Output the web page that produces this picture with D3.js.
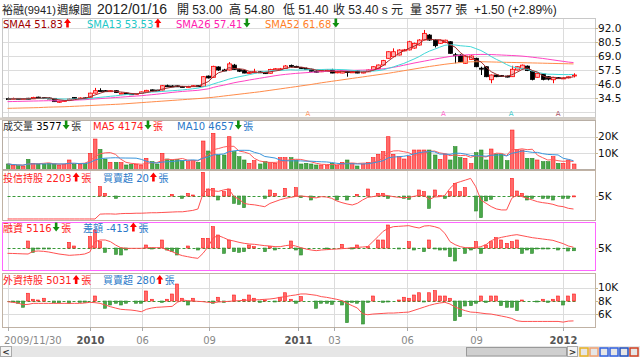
<!DOCTYPE html>
<html><head><meta charset="utf-8">
<script src="https://cdn.jsdelivr.net/npm/d3@7"></script>
<style>
body{margin:0;background:#fff}
svg{display:block}
text{font-family:"DejaVu Sans","Noto Sans CJK TC",sans-serif;white-space:pre}
</style></head>
<body><svg id="c" width="640" height="357"></svg>
<script>
// ---------------- DATA ----------------
const openP=[34.0,33.6,34.2,33.8,34.3,33.8,35.2,34.8,34.5,34.2,
31.2,31.8,32.6,35.0,34.5,34.6,35.0,38.5,40.6,40.5,
39.8,40.5,38.0,38.5,38.0,37.5,38.2,39.5,41.2,41.0,
41.0,44.6,44.4,44.5,44.0,43.6,44.0,44.6,44.0,52.5,
51.5,60.0,57.5,57.5,61.5,57.8,57.0,55.0,55.2,56.0,
55.6,54.8,58.0,58.3,58.8,61.3,60.5,59.5,58.8,58.2,
56.5,56.0,57.0,57.5,55.2,55.0,56.2,56.0,57.0,55.0,
56.0,57.5,58.8,61.6,67.1,68.4,69.8,73.5,74.0,75.5,
78.0,82.1,86.2,82.1,79.4,80.0,80.7,70.0,69.8,63.0,
66.2,67.1,59.0,60.2,49.5,53.4,53.0,52.5,52.0,57.5,
58.5,60.7,56.2,51.5,54.2,52.0,49.5,51.2,50.8,51.0,
53.0];
const highP=[34.8,34.8,34.5,34.4,34.6,35.5,35.6,35.2,34.9,34.4,
32.2,32.8,34.0,35.2,35.0,35.0,38.8,42.8,42.5,41.0,
41.0,40.8,39.0,38.8,38.3,38.5,39.8,41.2,41.5,41.2,
45.0,45.5,45.0,44.8,44.4,44.5,45.0,45.0,52.5,53.0,
61.0,60.5,58.5,64.0,62.5,58.5,57.5,56.0,58.5,56.5,
56.0,58.5,59.0,59.2,61.5,62.0,61.0,60.0,59.5,58.5,
57.2,57.8,58.0,58.5,56.5,57.5,56.5,56.8,57.5,56.5,
58.0,60.5,62.0,65.8,72.8,75.3,74.5,74.8,81.5,80.0,
82.8,90.4,87.0,82.8,82.5,82.4,81.2,71.5,70.5,69.8,
69.6,67.6,60.2,60.6,53.8,53.8,53.4,52.9,61.0,60.6,
62.0,61.2,56.6,55.2,54.6,52.4,51.9,51.6,51.5,52.2,
54.8];
const lowP=[33.2,33.4,33.5,33.5,33.4,33.6,34.5,34.2,34.0,31.2,
30.5,31.5,32.4,34.2,34.0,34.0,34.8,38.2,40.0,39.5,
39.5,38.8,37.8,37.6,37.2,37.3,38.0,39.3,40.6,40.2,
40.8,44.0,43.8,43.6,43.4,43.3,43.8,43.8,43.8,50.5,
51.2,56.8,56.5,57.2,57.5,55.8,54.8,54.5,54.8,55.0,
54.2,54.6,57.5,57.8,58.5,60.0,59.2,58.5,58.0,56.2,
55.5,55.8,56.8,54.8,54.8,54.8,52.0,55.5,54.8,54.8,
55.8,57.2,58.5,61.2,66.8,68.0,69.5,72.8,73.6,75.0,
77.6,81.8,81.5,76.0,79.0,79.6,70.8,63.0,63.8,62.6,
65.8,59.8,53.4,51.6,46.6,51.6,51.8,51.4,51.8,57.2,
58.2,56.6,49.0,51.2,49.0,49.0,46.6,50.5,50.4,50.6,
51.4];
const closeP=[33.6,34.2,33.8,34.0,33.6,35.0,34.8,34.5,34.3,31.5,
31.8,32.5,33.6,34.5,34.5,34.3,38.5,40.5,40.5,39.8,
40.5,39.0,38.5,38.0,37.5,38.2,39.5,40.8,41.0,40.5,
44.6,44.4,44.2,44.0,43.8,44.0,44.6,44.0,52.0,51.0,
60.5,57.5,57.0,62.5,58.0,56.5,55.0,55.5,56.0,55.6,
54.5,58.0,58.5,58.5,60.8,60.5,59.5,58.8,58.3,56.5,
56.0,57.0,57.5,55.0,56.0,57.0,56.0,56.0,55.0,56.0,
57.5,60.2,61.6,65.2,72.5,72.5,73.9,74.0,80.7,79.4,
82.1,87.6,82.1,77.5,82.1,82.0,71.2,69.8,64.3,69.0,
69.0,60.2,58.8,52.0,53.4,52.0,52.2,51.8,58.1,60.2,
61.5,57.0,49.8,54.8,49.8,50.0,51.5,51.0,51.0,51.9,
53.4];
const volume=[3600,3000,2600,2400,6400,4000,3600,3600,4000,3600,
3000,3400,6000,3400,3600,4000,10000,18600,12400,6600,
4600,4600,4400,3000,3400,3400,3000,7000,5000,3600,
10000,6600,6000,6400,5600,5000,5600,4600,17400,11400,
22000,9000,9000,20000,11000,8000,6000,4000,5600,3600,
5000,4600,4000,7400,7400,7400,6000,3600,4000,3600,
3000,3000,3000,4000,2600,4600,6000,4000,2400,3600,
4600,7400,9400,11000,20000,9400,8000,6600,8000,12000,
12000,12000,12000,9000,6400,9600,6000,14000,7400,7000,
3800,10400,12000,6000,12600,9600,9600,5600,24000,12400,
12000,7000,7000,6000,5000,5000,8000,4000,4000,6000,
3577];
const sma26=[31.5,31.6,31.7,31.8,31.9,32.0,32.1,32.2,32.3,32.2,
32.2,32.3,32.5,32.7,32.9,33.1,33.4,33.7,34.0,34.3,
34.6,34.9,35.2,35.5,35.8,36.1,36.4,36.8,37.2,37.6,
38.1,38.6,39.1,39.5,39.9,40.2,40.5,40.8,41.4,42.0,
43.2,44.2,45.0,46.0,47.0,47.8,48.5,49.3,50.0,50.7,
51.4,52.1,52.8,53.4,53.9,54.3,54.7,55.0,55.3,55.6,
55.9,56.2,56.4,56.6,56.8,57.0,57.1,57.2,57.3,57.4,
57.5,57.7,58.0,58.5,59.0,59.7,60.5,61.4,62.3,63.2,
64.0,64.8,65.6,66.4,67.2,67.9,68.6,69.2,69.6,69.9,
70.1,70.2,70.3,70.3,70.2,70.0,69.8,69.6,69.4,69.2,
68.9,68.5,68.0,67.5,67.0,66.4,65.8,65.2,64.6,64.0,
63.6];
const sma52=[26.0,26.1,26.2,26.3,26.4,26.5,26.6,26.8,27.0,27.1,
27.2,27.3,27.5,27.7,27.9,28.1,28.3,28.5,28.7,28.9,
29.1,29.3,29.5,29.8,30.1,30.4,30.7,31.0,31.3,31.6,
31.9,32.2,32.5,32.8,33.1,33.4,33.7,34.0,34.3,34.7,
35.1,35.6,36.1,36.6,37.1,37.6,38.1,38.6,39.1,39.6,
40.2,40.8,41.4,42.0,42.6,43.2,43.8,44.4,45.0,45.6,
46.3,47.0,47.6,48.2,48.8,49.4,50.0,50.6,51.2,51.8,
52.4,53.0,53.6,54.2,54.8,55.5,56.2,56.9,57.6,58.3,
59.0,59.7,60.4,61.0,61.6,62.2,62.7,63.2,63.6,64.0,
64.2,64.3,64.3,64.2,64.1,64.0,63.9,63.8,63.7,63.6,
63.5,63.4,63.3,63.2,63.1,63.0,62.9,62.8,62.7,62.6,
62.5];
const trustHold=[60,60,60,60,60,60,60,60,60,60,
60,60,60,60,60,60,60,60,1100,1150,
1150,1100,1200,1250,1250,1300,1300,1350,1400,1400,
1450,1500,1550,1600,1600,1750,1900,2200,5500,6500,
6100,6000,6300,6500,4900,4300,3400,3200,3100,2900,
2700,3400,3800,4200,4500,4700,4900,5000,4900,4700,
4600,4860,4780,4500,3930,3570,3280,3070,3430,4140,
4710,4860,5070,5215,5070,4860,4710,4640,4710,4930,
5140,5070,4280,4780,4860,5140,6650,7720,8075,8430,
8790,7000,4140,3430,2720,2220,2000,2000,4500,5215,
4860,4500,4140,3780,3570,3430,3210,2850,2710,2350,
2203];
const trustNet=[0,0,0,0,0,0,0,0,0,0,
0,0,0,0,0,0,0,0,1680,480,
0,-420,0,0,0,0,0,0,0,0,
0,0,300,0,-420,480,180,0,4260,1260,
1380,-720,780,1260,-1320,-1500,-2100,0,0,0,
-420,1080,480,0,1380,0,1500,-300,0,-720,
0,0,0,0,-720,0,-720,0,300,0,
1260,0,480,480,-420,0,0,-420,-600,0,
1080,780,-2220,1080,60,-420,780,2280,780,1500,
0,-2700,-3900,-900,-600,0,0,0,3180,900,
480,-720,-420,0,-420,-420,-720,0,-420,-420,
20];
const marginBal=[4200,4180,4150,4120,4100,4500,4550,4500,4400,4250,
4100,4000,3900,3950,4000,4100,4400,5950,6200,6200,
5950,5450,5050,4950,4950,4950,4950,5050,5050,5050,
5050,4700,4450,4100,3850,3700,3550,3450,4200,5200,
6550,6850,6550,6200,6050,5850,5700,5600,5550,5450,
5350,5300,5200,5200,5350,5450,5300,5050,4850,4700,
4600,4700,4750,4800,4850,4900,4950,5050,5100,5150,
5200,5950,6700,7500,7950,8200,8250,8300,8350,8150,
8000,8300,8350,8200,7950,7200,5950,5500,5200,5050,
5050,5050,5200,5500,6100,6400,6600,6750,6900,7000,
6850,6700,6550,6450,6350,6250,6150,5900,5650,5300,
5116];
const marginChg=[0,0,0,0,1050,-650,-150,-150,-150,0,
0,0,850,300,0,0,1700,2700,950,-650,
0,-950,-1050,-300,0,0,0,450,-150,0,
1200,-300,-550,-1050,0,300,0,-300,1450,1450,
3200,1950,-800,1200,-550,-650,-550,450,200,0,
-550,200,-300,0,0,1050,-300,-1050,0,0,
0,0,-150,0,0,550,0,-150,450,0,
200,0,1200,1200,3450,0,-150,0,950,-300,
0,-550,1200,-150,-300,-300,-1300,-1950,0,-800,
-300,950,-800,450,950,1550,1200,700,950,1200,
-800,-300,-800,-100,-100,-100,0,-300,0,-450,
-413];
const foreignHold=[7900,7800,7700,7450,7500,7650,7650,7650,7650,7650,
7650,7650,7650,7650,7650,7700,7800,7750,7650,7400,
7150,6950,6760,6700,6650,6550,6400,6760,6950,7060,
7100,7150,7200,7800,8150,8050,8000,7950,7900,7800,
7750,7850,7900,7950,8000,8050,8100,8150,8150,8200,
8250,8300,8400,8550,8650,8800,8900,9050,9050,8950,
8850,8650,8550,8400,8250,8050,7650,7300,6950,6100,
5950,6050,6100,6150,6200,6200,6250,6300,6350,6600,
6850,7100,7350,7550,7700,7800,7550,7100,6800,6550,
6350,6300,6200,6100,6050,5900,5750,5600,5400,5050,
4950,4950,4950,4950,4950,4950,4950,4950,4850,5000,
5031];
const foreignNet=[0,-30,-90,-250,310,70,40,110,0,-70,
-70,0,-90,0,-55,-55,0,200,0,-290,
-160,-90,-160,-90,0,-90,-90,400,70,0,
-55,70,280,680,110,-160,110,0,0,0,
-90,150,-55,0,240,0,70,240,110,-55,
40,0,-30,150,330,70,-90,175,0,0,
-290,-90,-90,-135,0,-160,-865,-55,-90,-920,
-55,200,0,-55,-30,0,40,150,110,240,
330,-30,330,415,200,200,110,-785,-625,-200,
-185,-90,200,-55,200,200,-185,-250,-250,-385,
40,0,0,-30,70,-55,70,200,-160,200,
280];
const tickIdx=[0,16,26.1,39.2,56.5,63.5,77.6,91,108];
const tickLabels=['2009/11/30','2010','06','09','2011','03','06','09','2012'];
const tickYear=[false,true,false,false,true,false,false,false,true];
const priceTicks=[92.0,80.5,69.0,57.5,46.0,34.5];
const priceGrid=[92.0,80.5,69.0,57.5,46.0,34.5,23.0];
const volTicks=[20000,10000];
const foreignTicks=[10000,8000,6000];
const markerIdx=[58.4,84.7,97.9,107];
const markerColors=['#ff9966','#ff66cc','#44cccc','#aa5566'];
const titleParts=['裕融(9941)','週線圖','2012/01/16','開 53.00','高 54.80','低 51.40','收 53.40 s 元','量 3577 張','+1.50 (+2.89%)'];
const legendVals={sma4:'51.83',sma13:'53.53',sma26:'57.41',sma52:'61.68',vol:'3577',ma5:'4174',ma10:'4657',
 trust:'2203',trustNet:'20',margin:'5116',marginChg:'-413',foreign:'5031',foreignNet:'280'};

// ---------------- DRAW ----------------
const svg=d3.select('#c');
const N=closeP.length;
const PL=2,PR=595;
const x=d3.scaleLinear().domain([0,N-1]).range([7.5,573.5]);
const grid='#dcdcdc';
const upC='#ff0000', dnC='#000000';
const redBar='#ff6a6a', redStroke='#ff1a1a', grnBar='#4aa84a', grnStroke='#2a882a';

function sma(arr,n){return arr.map((v,i)=>d3.mean(arr.slice(Math.max(0,i-n+1),i+1)));}

function panel(top,bottom,stroke,id,hgrid){
  svg.append('rect').attr('x',PL+0.5).attr('y',top+0.5).attr('width',PR-PL).attr('height',bottom-top)
    .attr('fill','#fff').attr('stroke',stroke);
  svg.append('clipPath').attr('id',id).append('rect').attr('x',PL+1).attr('y',top+1)
    .attr('width',PR-PL-1).attr('height',bottom-top-1);
  const g=svg.append('g').attr('clip-path',`url(#${id})`);
  tickIdx.forEach(t=>{const xx=Math.round(x(t))+0.5;
    g.append('line').attr('x1',xx).attr('x2',xx).attr('y1',top).attr('y2',bottom).attr('stroke',grid);});
  (hgrid||[]).forEach(yy=>{const y0=Math.round(yy)+0.5;
    g.append('line').attr('x1',PL).attr('x2',PR).attr('y1',y0).attr('y2',y0).attr('stroke',grid);});
  return g;
}
function arrow(x0,base,up){
  const c=up?'#ff0000':'#109010';
  const p=up?`M${x0},${base-9}L${x0+3.5},${base-4.5}L${x0+1.3},${base-4.5}L${x0+1.3},${base}L${x0-1.3},${base}L${x0-1.3},${base-4.5}L${x0-3.5},${base-4.5}Z`
           :`M${x0},${base}L${x0+3.5},${base-4.5}L${x0+1.3},${base-4.5}L${x0+1.3},${base-9}L${x0-1.3},${base-9}L${x0-1.3},${base-4.5}L${x0-3.5},${base-4.5}Z`;
  svg.append('path').attr('d',p).attr('fill',c);
}
function legend(x0,base,parts){
  let cx=x0;
  parts.forEach(p=>{
    if(p.a){arrow(cx+4.5,base,p.a==='up');cx+=9.5;}
    else{
      const t=svg.append('text').attr('x',cx).attr('y',base).attr('font-size',10).attr('xml:space','preserve');
      p.segs.forEach(s=>t.append('tspan').attr('fill',s[1]).text(s[0]));
      cx+=t.node().getComputedTextLength();
    }
  });
}
function rightLabel(txt,yy){
  svg.append('line').attr('x1',PR).attr('x2',PR+3).attr('y1',Math.round(yy)+0.5).attr('y2',Math.round(yy)+0.5).attr('stroke','#c8b890');
  svg.append('text').attr('x',598).attr('y',yy+3.7).attr('font-size',10.5).attr('fill','#111').text(txt);
}
function dashedZero(g,yy){
  g.append('line').attr('x1',x(0)).attr('x2',x(N-1)+2).attr('y1',Math.round(yy)+0.5).attr('y2',Math.round(yy)+0.5)
    .attr('stroke','#3a9a3a').attr('stroke-dasharray','3,2');
}
function bars(g,vals,yS,zero){
  vals.forEach((v,i)=>{ if(!v) return;
    const y1=yS(v), yt=Math.min(y1,zero), h=Math.max(1,Math.abs(y1-zero));
    g.append('rect').attr('x',Math.round(x(i))-1.5).attr('y',yt).attr('width',3).attr('height',h)
      .attr('fill',v>0?redBar:grnBar).attr('stroke',v>0?redStroke:grnStroke).attr('stroke-width',0.6);
  });
}

// ---- Title
const tY=14;
const titleX=[2,57,97,177,229,283,333,410,474];
const titleSize=[11,11.5,14,12,12,12,12,12,12];
titleParts.forEach((t,k)=>{
  svg.append('text').attr('x',titleX[k]).attr('y',tY).attr('font-size',titleSize[k]).attr('fill','#222')
   .style('font-family','"Liberation Sans","Noto Sans CJK TC",sans-serif').text(t);
});

// ---- Price panel
const yP=d3.scaleLinear().domain([23,92]).range([112,28]);
const gP=panel(18,117,'#c8c8c8','cp',priceGrid.map(yP));
const ma4=sma(closeP,4), ma13=sma(closeP,13);
closeP.forEach((c,i)=>{
  const o=openP[i],up=c>=o,xx=Math.round(x(i))+0.5;
  gP.append('line').attr('x1',xx).attr('x2',xx).attr('y1',yP(highP[i])).attr('y2',yP(lowP[i])).attr('stroke',up?upC:dnC);
  const yt=yP(Math.max(o,c)),h=Math.max(1,Math.abs(yP(o)-yP(c)));
  gP.append('rect').attr('x',xx-2).attr('y',yt).attr('width',4).attr('height',h)
    .attr('fill',up?'#ffb0b0':'#000').attr('stroke',up?upC:dnC).attr('stroke-width',0.8);
});
const line=(yS)=>d3.line().x((d,i)=>x(i)).y(d=>yS(d));
gP.append('path').attr('d',line(yP)(sma52)).attr('fill','none').attr('stroke','#ff8c4a').attr('stroke-width',1);
gP.append('path').attr('d',line(yP)(sma26)).attr('fill','none').attr('stroke','#ff44c4').attr('stroke-width',1);
gP.append('path').attr('d',line(yP)(ma13)).attr('fill','none').attr('stroke','#40d8d8').attr('stroke-width',1);
gP.append('path').attr('d',line(yP)(ma4)).attr('fill','none').attr('stroke','#a03030').attr('stroke-width',1);
markerIdx.forEach((m,k)=>{
  svg.append('text').attr('x',x(m)).attr('y',116).attr('text-anchor','middle').attr('font-size',7).attr('fill',markerColors[k]).text('A');
});
priceTicks.forEach(p=>rightLabel(p.toFixed(1),yP(p)));
legend(3,27.5,[{segs:[['SMA4 '+legendVals.sma4,'#a00000']]},{a:'up'}]);
legend(87,27.5,[{segs:[['SMA13 '+legendVals.sma13,'#22c8c8']]},{a:'up'}]);
legend(176,27.5,[{segs:[['SMA26 '+legendVals.sma26,'#ff20b0']]},{a:'down'}]);
legend(265,27.5,[{segs:[['SMA52 '+legendVals.sma52,'#ff7f27']]},{a:'down'}]);

// separator band
svg.append('rect').attr('x',0).attr('y',117.5).attr('width',PR+1).attr('height',2.5).attr('fill','#d4cec6');

// ---- Volume panel
const yV=d3.scaleLinear().domain([0,20000]).range([170,136.7]);
const gV=panel(120,169,'#b8aea4','cv',volTicks.map(yV));
volume.forEach((v,i)=>{
  const up=closeP[i]>=openP[i];
  gV.append('rect').attr('x',Math.round(x(i))-1.5).attr('y',yV(v)).attr('width',3.5).attr('height',170-yV(v))
    .attr('fill',up?redBar:grnBar).attr('stroke',up?redStroke:grnStroke).attr('stroke-width',0.6);
});
gV.append('path').attr('d',line(yV)(sma(volume,5))).attr('fill','none').attr('stroke','#ff5a5a');
gV.append('path').attr('d',line(yV)(sma(volume,10))).attr('fill','none').attr('stroke','#3a96dc');
rightLabel('20K',yV(20000));rightLabel('10K',yV(10000));
legend(3,129.5,[{segs:[['成交量 ','#333'],[legendVals.vol,'#000']]},{a:'down'},{segs:[['張','#333']]}]);
legend(93,129.5,[{segs:[['MA5 '+legendVals.ma5,'#ff2020']]},{a:'down'},{segs:[['張','#ff2020']]}]);
legend(177,129.5,[{segs:[['MA10 '+legendVals.ma10,'#2a78c8']]},{a:'down'},{segs:[['張','#2a78c8']]}]);

// ---- Trust (投信) panel
const yTH=d3.scaleLinear().domain([0,10000]).range([219.25,172.75]);
const yTN=d3.scaleLinear().domain([-4500,4500]).range([221,171]);
const gT=panel(170,220,'#c0b2a4','ct',[]);
dashedZero(gT,196);
bars(gT,trustNet,yTN,196);
gT.append('path').attr('d',line(yTH)(trustHold)).attr('fill','none').attr('stroke','#ff5050');
rightLabel('5K',196);
legend(3,181.5,[{segs:[['投信持股 '+legendVals.trust,'#ff2020']]},{a:'up'},{segs:[['張','#ff2020']]}]);
legend(103,181.5,[{segs:[['買賣超 '+legendVals.trustNet,'#2a78c8']]},{a:'up'},{segs:[['張','#2a78c8']]}]);

// ---- Margin (融資) panel
const yMB=d3.scaleLinear().domain([5000,8000]).range([248,228]);
const yMC=d3.scaleLinear().domain([0,3000]).range([248,228]);
const gM=panel(222,270,'#ff66ff','cm',[]);
dashedZero(gM,248);
bars(gM,marginChg,yMC,248);
gM.append('path').attr('d',line(yMB)(marginBal)).attr('fill','none').attr('stroke','#ff5050');
rightLabel('5K',248);
legend(3,231.5,[{segs:[['融資 '+legendVals.margin,'#ff2020']]},{a:'down'},{segs:[['張','#ff2020']]}]);
legend(83,231.5,[{segs:[['差額 '+legendVals.marginChg,'#2a78c8']]},{a:'up'},{segs:[['張','#2a78c8']]}]);

// ---- Foreign (外資) panel
const yFH=d3.scaleLinear().domain([6000,10000]).range([314.4,287.6]);
const yFN=d3.scaleLinear().domain([0,400]).range([301,291]);
const gF=panel(273,327,'#c0b2a4','cf',[yFH(10000),yFH(6000)]);
dashedZero(gF,301);
bars(gF,foreignNet,yFN,301);
gF.append('path').attr('d',line(yFH)(foreignHold)).attr('fill','none').attr('stroke','#ff5050');
foreignTicks.forEach(t=>rightLabel((t/1000)+'K',yFH(t)));
legend(3,284,[{segs:[['外資持股 '+legendVals.foreign,'#ff2020']]},{a:'up'},{segs:[['張','#ff2020']]}]);
legend(103,284,[{segs:[['買賣超 '+legendVals.foreignNet,'#2a78c8']]},{a:'up'},{segs:[['張','#2a78c8']]}]);

// ---- X axis
tickIdx.forEach((t,k)=>{
  const xx=Math.round(x(t))+0.5;
  svg.append('line').attr('x1',xx).attr('x2',xx).attr('y1',327).attr('y2',331).attr('stroke','#aaa');
  const first=k===0;
  svg.append('text').attr('x',first?4:xx).attr('y',343.5).attr('text-anchor',first?'start':'middle')
    .attr('font-size',10).attr('font-weight',tickYear[k]?'bold':'normal')
    .attr('fill',tickYear[k]?'#555':'#888').text(tickLabels[k]);
});

// ---- Scrollbar (decoration)
svg.append('rect').attr('x',0).attr('y',346).attr('width',640).attr('height',11).attr('fill','#e6e6e6');
svg.append('rect').attr('x',0.5).attr('y',346.5).attr('width',11).attr('height',10).attr('fill','#f4f4f4').attr('stroke','#aaa');
svg.append('text').attr('x',6).attr('y',355).attr('text-anchor','middle').attr('font-size',9).attr('font-weight','bold').attr('fill','#333').text('<');
svg.append('rect').attr('x',466.5).attr('y',347.5).attr('width',100).attr('height',8.5).attr('fill','#cfcfcf').attr('stroke','#999');
svg.append('rect').attr('x',567.5).attr('y',346.5).attr('width',10).attr('height',10).attr('fill','#f4f4f4').attr('stroke','#aaa');
svg.append('text').attr('x',572.5).attr('y',355).attr('text-anchor','middle').attr('font-size',9).attr('font-weight','bold').attr('fill','#333').text('>');
[['#e8b020',580],['#f0a070',590],['#3060e0',600],['#3060e0',610],['#2050c0',620],['#d04020',630]].forEach(d=>{
  svg.append('rect').attr('x',d[1]).attr('y',348).attr('width',8).attr('height',8).attr('fill','none').attr('stroke',d[0]).attr('stroke-width',1.5);
});
</script>
</body></html>
